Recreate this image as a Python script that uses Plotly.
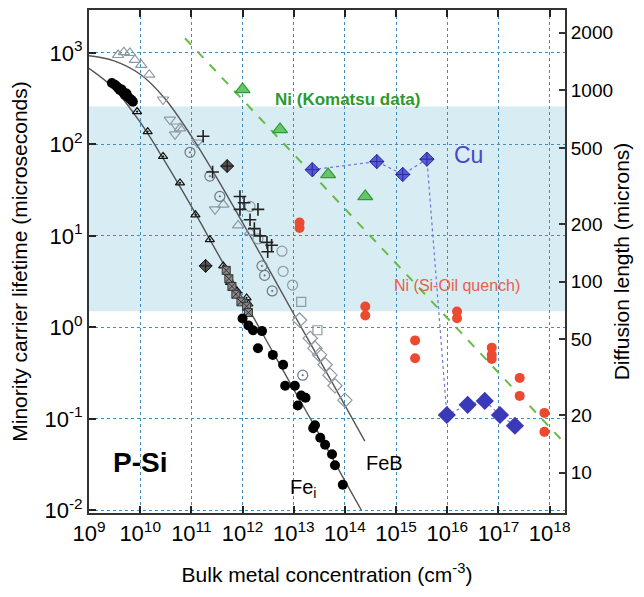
import plotly.graph_objects as go

# ---------------- data ----------------
# Model curves (concentration cm^-3, lifetime us)
fei_curve_x = [1e9, 3e9, 1e10, 3e10, 1e11, 3e11, 1e12, 3e12, 1e13, 3e13, 1e14, 2.1e14]
fei_curve_y = [680, 415, 175, 66, 21, 7.0, 2.1, 0.70, 0.21, 0.071, 0.021, 0.010]
feb_curve_x = [1e9, 3e9, 1e10, 3e10, 1e11, 3e11, 1e12, 3e12, 1e13, 3e13, 1e14, 2.45e14]
feb_curve_y = [934, 825, 585, 320, 123, 45, 14, 4.7, 1.4, 0.47, 0.14, 0.057]

# Fe_i data (black)
fei_fill_x = [2.8e9, 3.2e9, 3.5e9, 3.7e9, 4.0e9, 4.3e9, 4.6e9, 5.0e9, 5.4e9, 5.7e9, 6.3e9, 6.8e9, 7.2e9,
              1.0e12, 1.3e12, 1.6e12, 2.4e12, 2.0e12, 3.9e12, 6.2e12, 6.8e12, 1.05e13, 1.4e13, 1.2e13,
              1.7e13, 2.4e13, 2.6e13, 3.3e13, 4.1e13, 5.6e13, 6.4e13, 9.1e13]
fei_fill_y = [470, 450, 430, 415, 395, 400, 377, 350, 360, 333, 316, 305, 293,
              1.25, 1.05, 0.93, 0.91, 0.59, 0.50, 0.39, 0.23, 0.23, 0.18, 0.14,
              0.17, 0.079, 0.085, 0.062, 0.052, 0.041, 0.031, 0.019]
fei_tri_x = [8.7e9, 1.4e10, 2.8e10, 6.0e10, 1.2e11, 2.3e11, 4.2e11, 5.7e11, 7.8e11, 1.2e12, 1.3e12]
fei_tri_y = [229, 138, 74, 38, 17, 9.1, 4.7, 3.1, 2.5, 2.1, 1.8]
fei_sq_x = [4.8e11, 5.4e11, 6.2e11, 7.4e11, 9.3e11, 1.2e12, 1.3e12]
fei_sq_y = [4.2, 3.4, 2.8, 2.3, 1.9, 1.7, 1.45]
fei_dia_x = [5.0e11, 1.9e11]
fei_dia_y = [58, 4.7]

# FeB data (grey open symbols, black crosses)
feb_tri_x = [3.7e9, 4.8e9, 6.3e9, 7.9e9, 1.05e10, 1.5e10, 6.0e10, 4.2e11, 8.2e11, 1.4e12]
feb_tri_y = [950, 1020, 1000, 840, 740, 580, 150, 22, 13, 11]
feb_inv_x = [2.8e10, 3.8e10, 5.2e10, 4.8e10, 1.3e11, 2.9e11]
feb_inv_y = [310, 187, 157, 129, 105, 19.5]
feb_dot_x = [9.4e10, 2.3e11, 3.6e11, 2.4e12, 2.7e12, 3.8e12, 1.5e13]
feb_dot_y = [82, 45, 27, 4.7, 3.7, 2.5, 0.30]
feb_circ_x = [1.4e12, 5.9e12, 9.5e12, 6.2e12, 2.0e12]
feb_circ_y = [21, 6.8, 2.9, 4.1, 9.3]
feb_dia_x = [1.3e13, 2.1e13, 2.6e13, 3.2e13, 4.1e13, 5.1e13, 6.4e13, 1.0e14]
feb_dia_y = [1.2, 0.76, 0.59, 0.50, 0.39, 0.30, 0.23, 0.16]
feb_sq_x = [1.4e13, 2.9e13]
feb_sq_y = [1.9, 0.93]
feb_plus_x = [1.7e11, 2.6e11, 8.9e11, 8.9e11, 1.07e12, 1.4e12, 1.7e12, 2.2e12, 3.0e12, 3.1e12, 3.7e12, 2.0e12]
feb_plus_y = [123, 50, 27, 19.5, 23, 15, 12, 10, 8.5, 6.7, 7.9, 19.5]

# Ni (Komatsu data)
ni_k_x = [1.0e12, 5.4e12, 4.7e13, 2.5e14]
ni_k_y = [400, 146, 47, 27]
ni_fit_x = [7.5e10, 1.75e18]
ni_fit_y = [1450, 0.058]

# Cu
cu_x = [2.3e13, 4.2e14, 1.35e15, 4.0e15, 9.8e15, 2.5e16, 5.4e16, 1.07e17, 2.1e17]
cu_y = [53, 65, 47, 69, 0.11, 0.142, 0.157, 0.11, 0.084]

# Ni (Si-Oil quench)
ni_q_x = [1.3e13, 1.3e13, 2.5e14, 2.5e14, 2.35e15, 2.35e15, 1.55e16, 1.55e16,
          7.4e16, 7.4e16, 7.4e16, 2.6e17, 2.6e17, 7.9e17, 7.9e17]
ni_q_y = [12.2, 14.0, 1.69, 1.35, 0.72, 0.46, 1.49, 1.26,
          0.60, 0.50, 0.45, 0.28, 0.178, 0.116, 0.072]

# band of interest (lifetime, us)
band_y = [1.5, 260]

x_ticks = [1e9, 1e10, 1e11, 1e12, 1e13, 1e14, 1e15, 1e16, 1e17, 1e18]
x_ticktext = ["10<sup>%d</sup>" % e for e in range(9, 19)]
y_ticks = [0.01, 0.1, 1, 10, 100, 1000]
y_ticktext = ["10<sup>-2</sup>", "10<sup>-1</sup>", "10<sup>0</sup>", "10<sup>1</sup>", "10<sup>2</sup>", "10<sup>3</sup>"]
y2_ticks = [10, 20, 50, 100, 200, 500, 1000, 2000]
y2_ticktext = ["10", "20", "50", "100", "200", "500", "1000", "2000"]

# ---------------- figure ----------------
FONT = "Liberation Sans, Arial, sans-serif"
GREY = "#8c9aa4"
fig = go.Figure()

def curve(x, y):
    fig.add_trace(go.Scatter(x=x, y=y, mode="lines", line=dict(color="#555555", width=1.4, shape="spline"),
                             hoverinfo="skip", showlegend=False))

def pts(x, y, symbol, color, size, lw=1.2, fill=None):
    fig.add_trace(go.Scatter(x=x, y=y, mode="markers", showlegend=False,
                             marker=dict(symbol=symbol, size=size, color=fill or color,
                                         line=dict(color=color, width=lw))))

curve(fei_curve_x, fei_curve_y)
curve(feb_curve_x, feb_curve_y)

# FeB grey markers
pts(feb_tri_x, feb_tri_y, "triangle-up-open", GREY, 10)
pts(feb_inv_x, feb_inv_y, "triangle-down-open", GREY, 10)
pts(feb_dot_x, feb_dot_y, "circle-open-dot", "#6f7a82", 10)
pts(feb_circ_x, feb_circ_y, "circle-open", GREY, 10)
pts(feb_dia_x, feb_dia_y, "diamond-open", GREY, 11)
pts(feb_sq_x, feb_sq_y, "square-open", GREY, 9)
pts(feb_plus_x, feb_plus_y, "cross-thin-open", "#222222", 9, lw=1.6)

# Fe_i black markers
pts(fei_tri_x, fei_tri_y, "triangle-up-open-dot", "#111111", 8)
pts(fei_sq_x, fei_sq_y, "square-x", "#333333", 8, lw=1, fill="#888888")
pts(fei_dia_x, fei_dia_y, "diamond-cross", "#111111", 10, lw=1, fill="#555555")
pts(fei_fill_x, fei_fill_y, "circle", "#000000", 10, lw=0)

# Ni Komatsu fit line + triangles
fig.add_trace(go.Scatter(x=ni_fit_x, y=ni_fit_y, mode="lines", showlegend=False,
                         line=dict(color="#66bb44", width=2, dash="dash")))
pts(ni_k_x, ni_k_y, "triangle-up", "#2e9a3a", 13, lw=1.2, fill="#6cc46a")

# Cu
fig.add_trace(go.Scatter(x=cu_x, y=cu_y, mode="lines", showlegend=False,
                         line=dict(color="#6a78e0", width=1.2, dash="dot")))
pts(cu_x[:4], cu_y[:4], "diamond-cross", "#2a2aa0", 11, lw=1, fill="#5a5ad8")
pts(cu_x[4:], cu_y[4:], "diamond", "#3030b0", 14, lw=0, fill="#3a3ab8")

# Ni quench
pts(ni_q_x, ni_q_y, "circle", "#e84a2a", 10, lw=0, fill="#ec4a30")

# right axis carrier trace (no visible marks)
fig.add_trace(go.Scatter(x=[], y=[], yaxis="y2", showlegend=False))

fig.add_shape(type="rect", xref="paper", yref="y", x0=0, x1=1, y0=band_y[0], y1=band_y[1],
              fillcolor="#d8ecf3", line=dict(width=0), layer="below")

def txt(s, px, py, size, color="black", bold=False):
    fig.add_annotation(text=("<b>%s</b>" % s) if bold else s, xref="paper", yref="paper",
                       x=(px - 89) / 476, y=(513 - py) / 503, showarrow=False,
                       font=dict(family=FONT, size=size, color=color), xanchor="center", yanchor="middle")

txt("Ni (Komatsu data)", 347, 100, 17, "#2e9a2e", True)
txt("Cu", 468, 155, 23, "#4848c8")
txt("Ni (Si-Oil quench)", 457, 285, 16, "#e8604a")
txt("P-Si", 140, 462, 28, "black", True)
txt("Fe<sub>i</sub>", 303, 488, 20)
txt("FeB", 384, 463, 20)

axis_common = dict(showline=True, linecolor="#333333", linewidth=2, ticks="inside", ticklen=7, tickwidth=2,
                   tickcolor="#222222", tickfont=dict(family=FONT, size=22, color="black"),
                   showgrid=True, gridcolor="#3d8fbf", griddash="dot", gridwidth=1, zeroline=False,
                   automargin=False)

# the page body adds an 8 px offset; margins compensate so the plot box lands at x 89-565, y 10-513
fig.update_layout(
    width=644, height=597,
    margin=dict(l=81, r=87, t=2, b=92),
    paper_bgcolor="white", plot_bgcolor="white",
    font=dict(family=FONT, color="black"),
    xaxis=dict(type="log", range=[9, 18.3], tickvals=x_ticks, ticktext=x_ticktext, mirror="ticks",
               title=dict(text="Bulk metal concentration (cm<sup>-3</sup>)", font=dict(family=FONT, size=21), standoff=22),
               **axis_common),
    yaxis=dict(type="log", range=[-2.03, 3.47], tickvals=y_ticks, ticktext=y_ticktext, mirror=False,
               title=dict(text="Minority carrier lifetime (microseconds)", font=dict(family=FONT, size=21), standoff=12),
               **axis_common),
    yaxis2=dict(type="log", overlaying="y", side="right", range=[0.79, 3.42], tickvals=y2_ticks,
                ticktext=y2_ticktext, showline=True, linecolor="#333333", linewidth=2, ticks="inside",
                ticklen=6, tickwidth=1.5, tickcolor="#333333", showgrid=False, zeroline=False, automargin=False,
                tickfont=dict(family=FONT, size=19, color="black"),
                title=dict(text="Diffusion length (microns)", font=dict(family=FONT, size=21), standoff=2)),
)

fig.write_html("out.html")
